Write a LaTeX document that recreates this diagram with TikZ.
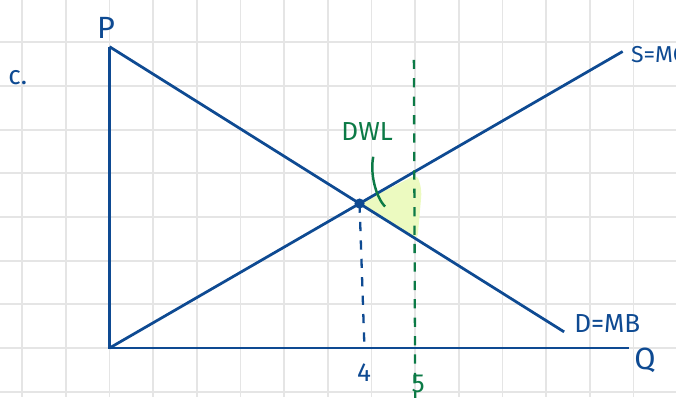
\documentclass[tikz,border=0pt]{standalone}
\usepackage{fontspec}
\setmainfont{Fira Sans}
\definecolor{penblue}{RGB}{14,74,146}
\definecolor{pengreen}{RGB}{12,122,70}
\definecolor{hilite}{RGB}{236,250,192}
\definecolor{gridgray}{RGB}{229,229,229}
\begin{document}
\begin{tikzpicture}[
    curve/.style={penblue, line width=1.8pt},
    guide/.style={line width=1.5pt, dash pattern=on 6pt off 6pt},
    hand/.style={font=\fontsize{17}{17}\selectfont, inner sep=1pt}
]
    \useasboundingbox (-2.507,-1.122) rectangle (12.972,7.969);
    % paper grid
    \draw[gridgray, line width=1.2pt] (-2.507,-1.122) grid (12.972,7.969);

    % points of the diagram
    \coordinate (O) at (0,0);
    \coordinate (Ptop) at (0,6.9);
    \coordinate (Qend) at (11.89,0);
    \coordinate (Dend) at (10.41,0.37);
    \coordinate (Send) at (11.75,6.79);
    \coordinate (E) at (intersection of Ptop--Dend and O--Send);
    \coordinate (Qfour) at (5.84,-0.05);
    \coordinate (Gtop) at (6.97,6.6);
    \coordinate (Gbot) at (7.0,-1.2);

    % deadweight loss
    \fill[hilite, rounded corners=4pt] (E) -- (7.05,3.98) -- (7.15,3.6)
        -- (7.05,2.48) -- cycle;

    % axes and curves
    \draw[curve] (Ptop) -- (O) -- (Qend);
    \draw[curve] (Ptop) -- (Dend);
    \draw[curve] (O) -- (Send);
    \draw[penblue, guide] (E) -- (Qfour);
    \draw[pengreen, guide] (Gtop) -- (Gbot);
    \fill[penblue] (E) circle (3.3pt);
    \draw[pengreen, line width=1.6pt] (6.04,4.38) .. controls (5.96,4.0) and (6.1,3.45) .. (6.31,3.24);

    % labels
    \node[hand, penblue] (lblc) at (-2.1,6.2) {c.};
    \node[hand, penblue, font=\fontsize{20}{20}\selectfont] (lblP) at (-0.08,7.33) {P};
    \node[hand, penblue, anchor=west, font=\fontsize{15}{15}\selectfont] (lblS) at (11.9,6.71) {S=MC};
    \node[hand, penblue, anchor=west] (lblD) at (10.6,0.57) {D=MB};
    \node[hand, penblue, font=\fontsize{20}{20}\selectfont] (lblQ) at (12.26,-0.27) {Q};
    \node[hand, penblue] (lbl4) at (5.83,-0.57) {4};
    \node[hand, pengreen] (lbl5) at (7.07,-0.82) {5};
    \node[hand, pengreen] (lblDWL) at (5.9,4.95) {DWL};
\end{tikzpicture}
\end{document}
